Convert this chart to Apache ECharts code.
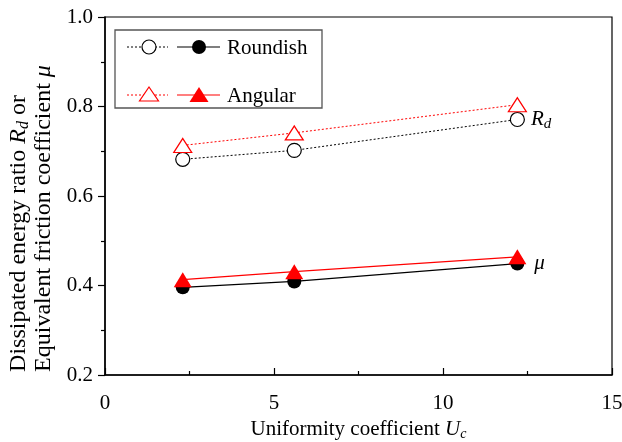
<!DOCTYPE html>
<html>
<head>
<meta charset="utf-8">
<script src="https://cdn.jsdelivr.net/npm/echarts@6/dist/echarts.min.js"></script>
<style>html,body{margin:0;padding:0;background:#fff}#c{width:622px;height:442px}</style>
</head>
<body>
<div id="c"></div>
<script>
const uc = [2.3, 5.6, 12.2];
const rdRoundish = [0.682, 0.702, 0.771];
const rdAngular = [0.713, 0.741, 0.804];
const muRoundish = [0.396, 0.409, 0.449];
const muAngular = [0.413, 0.431, 0.464];
const xTicks = [0, 5, 10, 15];
const yTicks = [0.2, 0.4, 0.6, 0.8, 1.0];

const FONT = '"Liberation Serif", "DejaVu Serif", serif';

function pairs(xs, ys, lastLabel, dist) {
  return xs.map((x, i) => {
    const d = { value: [x, ys[i]] };
    if (lastLabel && i === xs.length - 1) {
      d.label = {
        show: true, position: 'right', distance: dist,
        formatter: lastLabel,
        rich: {
          it: { fontFamily: FONT, fontSize: 21, fontStyle: 'italic', color: '#000' },
          sub: { fontFamily: FONT, fontSize: 15, fontStyle: 'italic', color: '#000', padding: [10, 0, 0, 0] }
        }
      };
    }
    return d;
  });
}

const chart = echarts.init(document.getElementById('c'));
const option = {
  animation: false,
  backgroundColor: '#fff',
  grid: { left: 105, right: 10, top: 17, bottom: 67, containLabel: false, outerBoundsMode: 'none', show: true, borderColor: '#000', borderWidth: 1.2, backgroundColor: 'transparent' },
  xAxis: {
    type: 'value', min: xTicks[0], max: xTicks[xTicks.length - 1], interval: 5,
    name: '{n|Uniformity coefficient }{it|U}{sub|c}',
    nameLocation: 'middle', nameGap: 41,
    nameTextStyle: {
      rich: {
        n: { fontFamily: FONT, fontSize: 21, color: '#000' },
        it: { fontFamily: FONT, fontSize: 21, fontStyle: 'italic', color: '#000' },
        sub: { fontFamily: FONT, fontSize: 14, fontStyle: 'italic', color: '#000', padding: [10, 0, 0, 0] }
      }
    },
    axisLine: { lineStyle: { color: '#000', width: 1.5 } },
    axisTick: { inside: true, length: 7, lineStyle: { color: '#000', width: 1.2 } },
    minorTick: { show: true, splitNumber: 2, length: 4, lineStyle: { color: '#000', width: 1.2 } },
    splitLine: { show: false },
    axisLabel: { fontFamily: FONT, fontSize: 21, color: '#000', margin: 18 }
  },
  yAxis: {
    type: 'value', min: yTicks[0], max: yTicks[yTicks.length - 1], interval: 0.2,
    name: '{n|Dissipated energy ratio }{it|R}{sub|d}{n| or}\n{n|Equivalent friction coefficient }{it|μ}',
    nameLocation: 'middle', nameGap: 49, nameRotate: 90,
    nameTextStyle: {
      lineHeight: 25,
      padding: [0, 45, 0, 0],
      rich: {
        n: { fontFamily: FONT, fontSize: 24, color: '#000', lineHeight: 25, align: 'left' },
        it: { fontFamily: FONT, fontSize: 24, fontStyle: 'italic', color: '#000', lineHeight: 25, align: 'left' },
        sub: { fontFamily: FONT, fontSize: 16, fontStyle: 'italic', color: '#000', lineHeight: 25, align: 'left', padding: [10, 0, 0, 0] }
      }
    },
    axisLine: { show: true, lineStyle: { color: '#000', width: 1.5 } },
    axisTick: { show: true, inside: false, length: 7, lineStyle: { color: '#000', width: 1.2 } },
    minorTick: { show: true, splitNumber: 2, length: 4, lineStyle: { color: '#000', width: 1.2 } },
    splitLine: { show: false },
    axisLabel: { fontFamily: FONT, fontSize: 21, color: '#000', margin: 12, formatter: v => v.toFixed(1) }
  },
  series: [
    {
      name: 'Roundish Rd', type: 'line', data: pairs(uc, rdRoundish, '{it|R}{sub|d}', 6),
      symbol: 'circle', symbolSize: 14,
      itemStyle: { color: '#fff', borderColor: '#000', borderWidth: 1.2 },
      lineStyle: { color: '#000', width: 1, type: [2, 2] }, z: 3
    },
    {
      name: 'Angular Rd', type: 'line', data: pairs(uc, rdAngular),
      symbol: 'triangle', symbolSize: [18, 14],
      itemStyle: { color: '#fff', borderColor: '#ff0000', borderWidth: 1.2 },
      lineStyle: { color: '#ff0000', width: 1, type: [2, 2] }, z: 3
    },
    {
      name: 'Roundish mu', type: 'line', data: pairs(uc, muRoundish, '{it|μ}', 10),
      symbol: 'circle', symbolSize: 14,
      itemStyle: { color: '#000', borderColor: '#000', borderWidth: 0 },
      lineStyle: { color: '#000', width: 1.2 }, z: 3
    },
    {
      name: 'Angular mu', type: 'line', data: pairs(uc, muAngular),
      symbol: 'triangle', symbolSize: [18, 15],
      itemStyle: { color: '#ff0000', borderColor: '#ff0000', borderWidth: 0 },
      lineStyle: { color: '#ff0000', width: 1.2 }, z: 4
    }
  ],
  graphic: [
    { type: 'rect', shape: { x: 115, y: 30, width: 207, height: 78 }, style: { fill: '#fff', stroke: '#555', lineWidth: 1.3 }, z: 10 },
    { type: 'line', shape: { x1: 127, y1: 47, x2: 168, y2: 47 }, style: { stroke: '#000', lineWidth: 1, lineDash: [2, 2] }, z: 11 },
    { type: 'circle', shape: { cx: 149, cy: 47, r: 7 }, style: { fill: '#fff', stroke: '#000', lineWidth: 1.2 }, z: 12 },
    { type: 'line', shape: { x1: 177, y1: 47, x2: 220, y2: 47 }, style: { stroke: '#000', lineWidth: 1.2 }, z: 11 },
    { type: 'circle', shape: { cx: 199, cy: 47, r: 7 }, style: { fill: '#000', stroke: '#000', lineWidth: 0 }, z: 12 },
    { type: 'text', x: 227, y: 48, style: { text: 'Roundish', font: '21px ' + FONT, fill: '#000', textVerticalAlign: 'middle' }, z: 12 },
    { type: 'line', shape: { x1: 127, y1: 95, x2: 168, y2: 95 }, style: { stroke: '#ff0000', lineWidth: 1, lineDash: [2, 2] }, z: 11 },
    { type: 'polygon', shape: { points: [[149, 87], [158.5, 101], [139.5, 101]] }, style: { fill: '#fff', stroke: '#ff0000', lineWidth: 1.2 }, z: 12 },
    { type: 'line', shape: { x1: 177, y1: 95, x2: 220, y2: 95 }, style: { stroke: '#ff0000', lineWidth: 1.2 }, z: 11 },
    { type: 'polygon', shape: { points: [[199, 87], [208.5, 102], [189.5, 102]] }, style: { fill: '#ff0000', stroke: '#ff0000', lineWidth: 0 }, z: 12 },
    { type: 'text', x: 227, y: 96, style: { text: 'Angular', font: '21px ' + FONT, fill: '#000', textVerticalAlign: 'middle' }, z: 12 }
  ]
};
chart.setOption(option);
</script>
</body>
</html>
